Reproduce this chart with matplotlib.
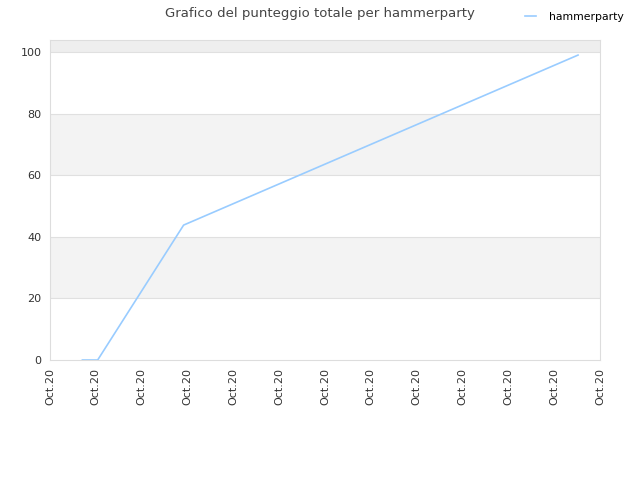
import matplotlib
matplotlib.use("Agg")
import matplotlib.pyplot as plt
import matplotlib.dates as mdates
from datetime import datetime

dates = [datetime(2020, 10, 1, 17, 0), datetime(2020, 10, 2, 1, 0),
         datetime(2020, 10, 3, 22, 0), datetime(2020, 10, 12, 12, 30)]
scores = [0, 0, 43.8, 99.0]

fig = plt.figure(figsize=(6.4, 4.8), dpi=100)
ax = fig.add_axes([0.078, 0.25, 0.8595, 0.6667])

# alternating bands
bands = [(0, 20, "white"), (20, 40, "#f3f3f3"), (40, 60, "white"),
         (60, 80, "#f3f3f3"), (80, 100, "white"), (100, 104, "#eeeeee")]
for lo, hi, c in bands:
    ax.axhspan(lo, hi, color=c, zorder=0, lw=0)
for v in [20, 40, 60, 80, 100]:
    ax.axhline(v, color="#e0e0e0", lw=0.8, zorder=1)

ax.plot(dates, scores, color="#99ccff", lw=1.2, label="hammerparty", zorder=3)

ax.set_xlim(datetime(2020, 10, 1), datetime(2020, 10, 13))
ax.set_ylim(0, 103.9)
ax.set_yticks([0, 20, 40, 60, 80, 100])
ax.xaxis.set_major_locator(mdates.DayLocator())
ax.xaxis.set_major_formatter(mdates.DateFormatter("%b.%y"))
plt.setp(ax.get_xticklabels(), rotation=90)
ax.tick_params(length=0, labelsize=8, colors="#333333", pad=6)

for s in ax.spines.values():
    s.set_color("#dddddd")

fig.suptitle("Grafico del punteggio totale per hammerparty", fontsize=9.5,
             color="#444444", y=0.985)
fig.legend(loc="upper right", bbox_to_anchor=(0.99, 0.995), frameon=False,
           fontsize=7.8, handlelength=1, handletextpad=1.2)

fig.savefig("out.png")
